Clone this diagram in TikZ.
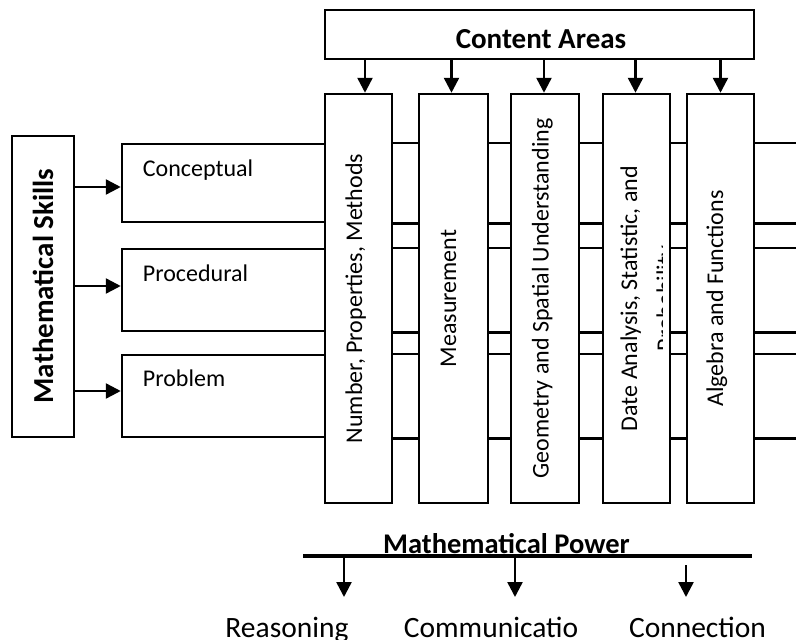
\documentclass[tikz,border=0pt]{standalone}
\usepackage{fontspec}
\setmainfont{Carlito}
\usetikzlibrary{arrows.meta,calc}

\tikzset{
	box/.style={draw, line width=2.5pt, fill=white, inner sep=0pt},
	feed/.style={line width=2.5pt, -{Triangle[width=15pt,length=15pt]}},
	skilltxt/.style={font=\fontsize{24}{28}\selectfont, anchor=base west, inner sep=0pt},
	areatxt/.style={font=\fontsize{24}{28}\selectfont, rotate=90, anchor=base, inner sep=0pt},
	headtxt/.style={font=\fontsize{29}{33}\selectfont\bfseries, inner sep=0pt},
	powertxt/.style={font=\fontsize{29.5}{33}\selectfont, anchor=base, inner sep=0pt}
}

\begin{document}
\begin{tikzpicture}[x=1pt, y=-1pt]
			%%%%% START %%%%%
			\useasboundingbox (0,0) rectangle (796,640);
			\coordinate (rim) at (796,0);
			
			\node[box, minimum width=62pt, minimum height=301pt] (msk) at (43,286.5) {};
			\node[headtxt, rotate=90] (mskt) at (43,286) {Mathematical Skills};
			
			\node[box, minimum width=203pt, minimum height=78pt] (sk1) at (223.5,183) {};
			\node[box, minimum width=203pt, minimum height=82pt] (sk2) at (223.5,290) {};
			\node[box, minimum width=203pt, minimum height=82pt] (sk3) at (223.5,396) {};
			\node[skilltxt] (sk1t) at ($(sk1.north west)+(22,34)$) {Conceptual};
			\node[skilltxt] (sk2t) at ($(sk2.north west)+(22,34)$) {Procedural};
			\node[skilltxt] (sk3t) at ($(sk3.north west)+(22,33)$) {Problem};
			
			\foreach \sk/\dy in {sk1/-4, sk2/4, sk3/5} {
				\draw[feed] ([yshift=\dy pt]msk.east |- \sk.west) -- ([yshift=\dy pt]\sk.west);
				\draw[line width=2.5pt] (\sk.north east) -- (\sk.north east -| rim);
				\draw[line width=2.5pt] (\sk.south east) -- (\sk.south east -| rim);
			}
			
			\node[box, minimum width=429pt, minimum height=49pt] (ca) at (539.5,34.5) {};
			\node[headtxt, anchor=base] (cat) at (541,48) {Content Areas};
			
			\foreach \col/\cx/\cw/\ax in {c1/358.5/67/6.5, c2/453.5/69/-2, c3/545/68/-1, c4/636.5/67/-1, c5/720.5/67/0} {
				\node[box, minimum width=\cw pt, minimum height=409pt] (\col) at (\cx,298.5) {};
				\draw[feed] ([xshift=\ax pt]ca.south -| \col.north) -- ([xshift=\ax pt]\col.north);
			}
			
			\node[areatxt] (t1) at (362,298.5) {Number, Properties, Methods};
			\node[areatxt] (t2) at (456,298.5) {Measurement};
			\node[areatxt] (t3) at (548.5,298.5) {Geometry and Spatial Understanding};
			\node[areatxt] (t5) at (723,298.5) {Algebra and Functions};
			\begin{scope}
				\clip (c4.north west) rectangle ([xshift=-9pt]c4.south east);
				\node[areatxt] (t4) at (637,298.5) {Date Analysis, Statistic, and};
				\node[areatxt] (t4b) at (673,298.5) {Probability};
			\end{scope}
			
			%%%%% POWER %%%%%
			\coordinate (pw0) at (303,556);
			\coordinate (pw1) at (752,556);
			\draw[line width=3.5pt] (pw0) -- (pw1);
			\node[headtxt, anchor=base, font=\fontsize{28.5}{33}\selectfont\bfseries] (pwt) at (506.5,553) {Mathematical Power};
			
			\coordinate (r1) at (344,597);
			\coordinate (r2) at (515,597);
			\coordinate (r3) at (686,597);
			\coordinate (r3s) at (686,565);
			\draw[feed] (r1 |- pw0) -- (r1);
			\draw[feed] (r2 |- pw0) -- (r2);
			\draw[feed] (r3s) -- (r3);
			
			\node[powertxt] (rsn) at (287,637) {Reasoning};
			\node[powertxt] (cmm) at (491,637) {Communicatio};
			\node[powertxt] (cnn) at (697.5,637) {Connection};
			%%%%% END %%%%%
\end{tikzpicture}
\end{document}
